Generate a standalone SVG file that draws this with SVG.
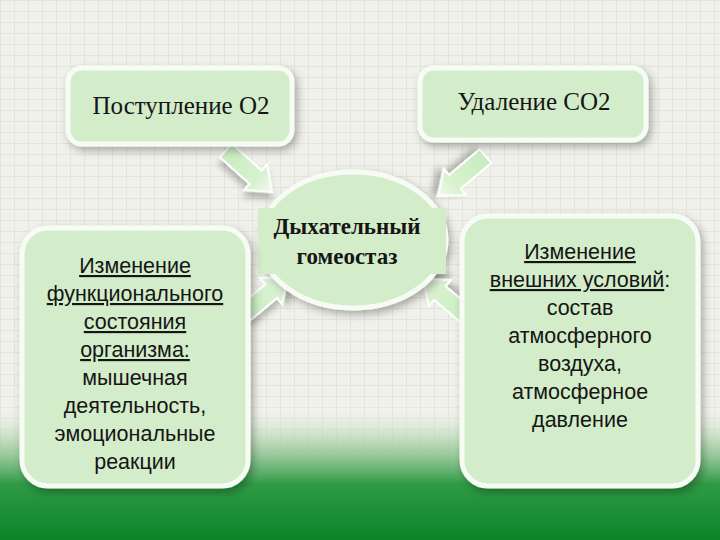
<svg xmlns="http://www.w3.org/2000/svg" width="720" height="540" viewBox="0 0 720 540">
  <defs>
    <pattern id="grid" width="14" height="11" patternUnits="userSpaceOnUse">
      <rect width="14" height="11" fill="#f1f1eb"/>
      <path d="M0 0.5H14M0.5 0V11" stroke="#dcdcd4" stroke-width="1" opacity="0.6"/>
    </pattern>
    <linearGradient id="bottom" x1="0" y1="0" x2="0" y2="1">
      <stop offset="0" stop-color="#ffffff" stop-opacity="0"/>
      <stop offset="0.3" stop-color="#a6cfa4" stop-opacity="0.7"/>
      <stop offset="0.6" stop-color="#2f9a45"/>
      <stop offset="1" stop-color="#0c8428"/>
    </linearGradient>
    <linearGradient id="arrowFill" x1="0" y1="0" x2="1" y2="0">
      <stop offset="0" stop-color="#c8ecc0"/>
      <stop offset="0.7" stop-color="#d8f2d0"/>
      <stop offset="1" stop-color="#f4fbf1"/>
    </linearGradient>
    <filter id="shadow" x="-20%" y="-20%" width="140%" height="140%">
      <feDropShadow dx="3" dy="4" stdDeviation="4" flood-color="#000" flood-opacity="0.3"/>
    </filter>
    <filter id="ashadow" x="-40%" y="-40%" width="180%" height="180%">
      <feDropShadow dx="4" dy="5" stdDeviation="3" flood-color="#000" flood-opacity="0.25"/>
    </filter>
    <path id="arrow" d="M0 0 L-22 -17 L-22 -9 L-62 -9 L-62 9 L-22 9 L-22 17 Z"/>
  </defs>
  <style>
    .box { fill: #d3ecc9; stroke: #f6fcf3; stroke-width: 5; filter: url(#shadow); }
    .arr { fill: url(#arrowFill); stroke: #ffffff; stroke-width: 2; filter: url(#ashadow); }
    .serif { font-family: "Liberation Serif", "DejaVu Serif", serif; fill: #151515; text-anchor: middle; }
    .sans { font-family: "Liberation Sans", "DejaVu Sans", sans-serif; font-size: 21.5px; fill: #151515; text-anchor: middle; }
    .u { text-decoration: underline; }
  </style>

  <rect width="720" height="540" fill="url(#grid)"/>
  <rect x="0" y="400" width="720" height="140" fill="url(#bottom)"/>

  <g id="connectors">
    <use href="#arrow" class="arr" transform="translate(272,192) rotate(42)"/>
    <use href="#arrow" class="arr" transform="translate(438,196) rotate(140)"/>
    <use href="#arrow" class="arr" transform="translate(288,277) rotate(-40)"/>
    <use href="#arrow" class="arr" transform="translate(423,279) rotate(-140)"/>
  </g>

  <g id="node-o2">
    <rect class="box" x="68" y="68" width="224" height="76" rx="14"/>
    <text class="serif" x="181" y="114" font-size="25">Поступление О2</text>
  </g>

  <g id="node-co2">
    <rect class="box" x="420" y="68" width="226" height="72" rx="14"/>
    <text class="serif" x="534" y="110" font-size="25">Удаление СО2</text>
  </g>

  <g id="node-center">
    <ellipse cx="353" cy="240" rx="93" ry="68" fill="#d3ecc9" stroke="#f6fcf3" stroke-width="5" filter="url(#shadow)"/>
    <rect x="258" y="208" width="188" height="66" fill="#d3ecc9"/>
    <text class="serif" x="347" y="234" font-size="23" font-weight="bold">Дыхательный</text>
    <text class="serif" x="347" y="264" font-size="23" font-weight="bold">гомеостаз</text>
  </g>

  <g id="node-internal">
    <rect class="box" x="22" y="228" width="226" height="258" rx="26"/>
    <text class="sans u" x="135" y="273">Изменение</text>
    <text class="sans u" x="135" y="301">функционального</text>
    <text class="sans u" x="135" y="329">состояния</text>
    <text class="sans u" x="135" y="357">организма:</text>
    <text class="sans" x="135" y="385">мышечная</text>
    <text class="sans" x="135" y="413">деятельность,</text>
    <text class="sans" x="135" y="441">эмоциональные</text>
    <text class="sans" x="135" y="469">реакции</text>
  </g>

  <g id="node-external">
    <rect class="box" x="462" y="216" width="236" height="270" rx="26"/>
    <text class="sans u" x="580" y="259">Изменение</text>
    <text class="sans" x="580" y="287"><tspan class="u">внешних условий</tspan>:</text>
    <text class="sans" x="580" y="315">состав</text>
    <text class="sans" x="580" y="343">атмосферного</text>
    <text class="sans" x="580" y="371">воздуха,</text>
    <text class="sans" x="580" y="399">атмосферное</text>
    <text class="sans" x="580" y="427">давление</text>
  </g>
</svg>
